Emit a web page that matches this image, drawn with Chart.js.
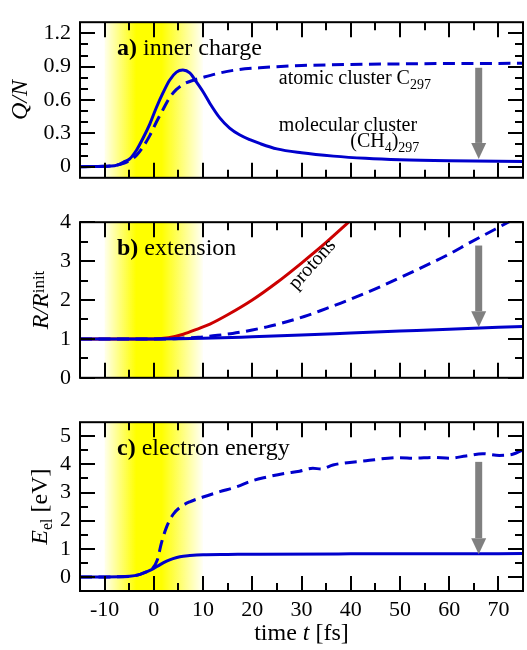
<!DOCTYPE html>
<html>
<head>
<meta charset="utf-8">
<script src="https://cdn.jsdelivr.net/npm/chart.js@4.4.1/dist/chart.umd.min.js"></script>
<style>
  body { margin: 0; background: #fff; }
  canvas { position: absolute; left: 0; }
</style>
</head>
<body>
<canvas id="chartA" width="527" height="200" style="top:0"></canvas>
<canvas id="chartB" width="527" height="200" style="top:200px"></canvas>
<canvas id="chartC" width="527" height="250" style="top:400px"></canvas>
<script>
// time axis [fs]
const xTicks = [-10, 0, 10, 20, 30, 40, 50, 60, 70];
const xMinorTicks = [-5, 5, 15, 25, 35, 45, 55, 65];
const pulseStart = -10;
const pulseEnd = 10;

// a) inner charge Q/N
const qTicks = [0, 0.3, 0.6, 0.9, 1.2];
const qMinorTicks = [0.1, 0.2, 0.4, 0.5, 0.7, 0.8, 1.0, 1.1];
const qMolTime = [-15, -10, -8, -7, -6.2, -4.9, -3.5, -2.2, -0.8, 0.5, 1.9, 3.2, 4.6, 5.9, 7.3, 8.6, 10, 11.4, 13.4, 15.4, 17.4, 19.5, 21.5, 25, 30, 36.5, 43, 50, 60, 75];
const qMol = [0, 0.003, 0.008, 0.02, 0.04, 0.07, 0.15, 0.256, 0.386, 0.53, 0.668, 0.778, 0.851, 0.869, 0.843, 0.765, 0.674, 0.569, 0.439, 0.347, 0.287, 0.243, 0.209, 0.16, 0.125, 0.095, 0.075, 0.062, 0.053, 0.047];
const qAtomTime = [-15, -10, -7, -4.9, -3.5, -2.2, -0.8, 0.5, 1.9, 3.2, 4.6, 5.9, 8, 10, 13.4, 17.4, 21.5, 25, 30, 40, 50, 60, 75];
const qAtom = [0, 0.003, 0.02, 0.055, 0.104, 0.178, 0.282, 0.40, 0.517, 0.621, 0.695, 0.739, 0.778, 0.804, 0.843, 0.875, 0.89, 0.90, 0.91, 0.92, 0.925, 0.928, 0.93];

// b) extension R/R_init
const rTicks = [0, 1, 2, 3, 4];
const rMinorTicks = [0.5, 1.5, 2.5, 3.5];
const rMolTime = [-15, 0, 5, 10, 20, 30, 40, 50, 60, 75];
const rMol = [1, 1, 1.005, 1.015, 1.055, 1.1, 1.15, 1.2, 1.25, 1.32];
const rAtomTime = [-15, 0, 3, 6, 9, 12, 16, 20, 23, 27, 31.4, 35, 39, 46, 53, 60, 64, 68, 72, 75];
const rAtom = [1, 1, 1, 1.02, 1.04, 1.08, 1.14, 1.23, 1.31, 1.44, 1.61, 1.78, 1.97, 2.34, 2.75, 3.18, 3.46, 3.73, 4.0, 4.2];
const rProtonTime = [-15, 0, 3, 6, 9, 11.4, 15, 20, 25, 30, 35, 40];
const rProton = [1, 1, 1.03, 1.12, 1.26, 1.38, 1.62, 2.0, 2.45, 2.95, 3.48, 4.05];

// c) electron energy [eV]
const eTicks = [0, 1, 2, 3, 4, 5];
const eMinorTicks = [0.5, 1.5, 2.5, 3.5, 4.5];
const eMolTime = [-15, -10, -4.9, -2.8, -1.5, -0.1, 1.2, 2.6, 3.9, 5.3, 7.3, 10, 15, 21.5, 40, 60, 75];
const eMol = [0, 0, 0.02, 0.09, 0.18, 0.29, 0.43, 0.56, 0.65, 0.72, 0.76, 0.79, 0.80, 0.81, 0.82, 0.825, 0.83];
const eAtomTime = [-15, -10, -4.9, -2.8, -1.5, -0.5, 0.7, 1.55, 2.6, 3.9, 5.3, 7.3, 10, 13.4, 16.8, 20, 23, 26.2, 29.6, 32.3, 34, 36.4, 43.1, 49.9, 53, 56.7, 60, 63.4, 66.8, 70.2, 72.9, 75];
const eAtom = [0, 0, 0.02, 0.09, 0.18, 0.25, 0.6, 1.21, 1.78, 2.22, 2.47, 2.67, 2.84, 3.03, 3.2, 3.42, 3.55, 3.67, 3.76, 3.86, 3.84, 3.98, 4.13, 4.24, 4.22, 4.25, 4.22, 4.3, 4.38, 4.32, 4.36, 4.52];

const SERIF = '"Liberation Serif", "DejaVu Serif", serif';
const BLUE = '#0000cc';
const RED = '#cc0000';

function f(size, style) {
    return (style ? style + ' ' : '') + size + 'px ' + SERIF;
}

function pts(times, values) {
    return times.map((t, i) => ({ x: t, y: values[i] }));
}

function richText(ctx, parts, x, y, angle, align) {
    ctx.save();
    ctx.translate(x, y);
    ctx.rotate(angle || 0);
    ctx.textBaseline = 'alphabetic';
    ctx.textAlign = 'left';
    ctx.fillStyle = '#000';
    let total = 0;
    parts.forEach(p => { ctx.font = p.font; total += ctx.measureText(p.text).width; });
    let cx = align === 'center' ? -total / 2 : 0;
    parts.forEach(p => {
        ctx.font = p.font;
        ctx.fillText(p.text, cx, p.dy || 0);
        cx += ctx.measureText(p.text).width;
    });
    ctx.restore();
}

const decor = {
    id: 'decor',
    beforeDatasetsDraw(chart) {
        const { ctx, chartArea: a, scales: { x } } = chart;
        const x0 = x.getPixelForValue(pulseStart);
        const x1 = x.getPixelForValue(pulseEnd);
        const g = ctx.createLinearGradient(x0, 0, x1, 0);
        g.addColorStop(0, 'rgba(255,255,0,0.07)');
        g.addColorStop(0.32, 'rgba(255,255,0,1)');
        g.addColorStop(0.58, 'rgba(255,255,0,1)');
        g.addColorStop(1, 'rgba(255,255,0,0.03)');
        ctx.save();
        ctx.fillStyle = g;
        ctx.fillRect(x0, a.top, x1 - x0, a.bottom - a.top);
        ctx.restore();
    },
    afterDatasetsDraw(chart, args, opts) {
        const { ctx, chartArea: a, scales: { x, y } } = chart;
        ctx.save();

        // grey arrow
        const ar = opts.arrow;
        const ax = x.getPixelForValue(ar.x);
        const ay0 = y.getPixelForValue(ar.from);
        const ay1 = y.getPixelForValue(ar.to);
        ctx.fillStyle = '#808080';
        ctx.fillRect(ax - 3.5, ay0, 7, ay1 - 16 - ay0);
        ctx.beginPath();
        ctx.moveTo(ax - 7.5, ay1 - 16);
        ctx.lineTo(ax + 7.5, ay1 - 16);
        ctx.lineTo(ax, ay1);
        ctx.closePath();
        ctx.fill();

        // inward ticks on all sides
        ctx.strokeStyle = '#000';
        ctx.lineWidth = 2;
        ctx.beginPath();
        const tx = (vals, len) => vals.forEach(v => {
            const px = Math.round(x.getPixelForValue(v));
            ctx.moveTo(px, a.bottom); ctx.lineTo(px, a.bottom - len);
            ctx.moveTo(px, a.top); ctx.lineTo(px, a.top + len);
        });
        const ty = (vals, len) => vals.forEach(v => {
            const py = Math.round(y.getPixelForValue(v));
            ctx.moveTo(a.left, py); ctx.lineTo(a.left + len, py);
            ctx.moveTo(a.right, py); ctx.lineTo(a.right - len, py);
        });
        tx(xTicks, 15);
        tx(xMinorTicks, 8);
        ty(opts.yTicks, 15);
        ty(opts.yMinor, 8);
        ctx.stroke();
        ctx.strokeRect(a.left, a.top, a.right - a.left, a.bottom - a.top);

        // panel label
        richText(ctx, opts.label, a.left + 37, a.top + 33);

        // texts in data coordinates
        (opts.texts || []).forEach(t => {
            richText(ctx, t.parts, x.getPixelForValue(t.x), y.getPixelForValue(t.y), t.angle, t.align);
        });

        // axis titles
        richText(ctx, opts.yTitle, opts.yTitleX, (a.top + a.bottom) / 2, -Math.PI / 2, 'center');
        if (opts.xTitle) {
            richText(ctx, opts.xTitle, (a.left + a.right) / 2, opts.xTitleY, 0, 'center');
        }
        ctx.restore();
    }
};

function makePanel(id, cfg) {
    const datasets = cfg.series.map(s => ({
        data: pts(s.t, s.v),
        borderColor: s.color,
        borderWidth: 3,
        borderDash: s.dashed ? [12, 6.5] : [],
        pointRadius: 0,
        fill: false,
        cubicInterpolationMode: 'monotone'
    }));

    return new Chart(document.getElementById(id), {
        type: 'line',
        data: { datasets: datasets },
        plugins: [decor],
        options: {
            responsive: false,
            animation: false,
            events: [],
            layout: { autoPadding: false, padding: cfg.padding },
            plugins: {
                legend: { display: false },
                tooltip: { enabled: false },
                decor: cfg.decor
            },
            scales: {
                x: {
                    type: 'linear',
                    min: -15,
                    max: 75,
                    grid: { display: false, drawTicks: false },
                    border: { display: false },
                    afterBuildTicks: s => { s.ticks = xTicks.map(v => ({ value: v })); },
                    afterFit: s => { s.height = cfg.xHeight; },
                    ticks: {
                        display: cfg.showX,
                        padding: 6,
                        color: '#000',
                        font: { family: SERIF, size: 22 },
                        maxRotation: 0,
                        autoSkip: false,
                        callback: v => String(v)
                    }
                },
                y: {
                    type: 'linear',
                    min: cfg.yMin,
                    max: cfg.yMax,
                    grid: { display: false, drawTicks: false },
                    border: { display: false },
                    afterBuildTicks: s => { s.ticks = cfg.decor.yTicks.map(v => ({ value: v })); },
                    afterFit: s => { s.width = 80; },
                    ticks: {
                        padding: 9,
                        color: '#000',
                        font: { family: SERIF, size: 22 },
                        autoSkip: false,
                        callback: v => String(v)
                    }
                }
            }
        }
    });
}

makePanel('chartA', {
    padding: { top: 10, bottom: 11, left: 0, right: 4 },
    xHeight: 0,
    showX: false,
    yMin: -0.1,
    yMax: 1.3,
    series: [
        { t: qMolTime, v: qMol, color: BLUE, dashed: false },
        { t: qAtomTime, v: qAtom, color: BLUE, dashed: true }
    ],
    decor: {
        yTicks: qTicks,
        yMinor: qMinorTicks,
        arrow: { x: 66, from: 0.89, to: 0.07 },
        label: [{ text: 'a)', font: f(24, 'bold') }, { text: ' inner charge', font: f(24) }],
        texts: [
            { x: 25.4, y: 0.74, parts: [{ text: 'atomic cluster C', font: f(20) }, { text: '297', font: f(14), dy: 5 }] },
            { x: 25.4, y: 0.32, parts: [{ text: 'molecular cluster', font: f(20) }] },
            { x: 39.9, y: 0.173, parts: [{ text: '(CH', font: f(20) }, { text: '4', font: f(14), dy: 5 }, { text: ')', font: f(20) }, { text: '297', font: f(14), dy: 5 }] }
        ],
        yTitle: [{ text: 'Q/N', font: f(24, 'italic') }],
        yTitleX: 27
    }
});

makePanel('chartB', {
    padding: { top: 11, bottom: 10, left: 0, right: 4 },
    xHeight: 0,
    showX: false,
    yMin: 0,
    yMax: 4,
    series: [
        { t: rMolTime, v: rMol, color: BLUE, dashed: false },
        { t: rAtomTime, v: rAtom, color: BLUE, dashed: true },
        { t: rProtonTime, v: rProton, color: RED, dashed: false }
    ],
    decor: {
        yTicks: rTicks,
        yMinor: rMinorTicks,
        arrow: { x: 66, from: 3.4, to: 1.3 },
        label: [{ text: 'b)', font: f(24, 'bold') }, { text: ' extension', font: f(24) }],
        texts: [
            { x: 33, y: 2.82, angle: -48 * Math.PI / 180, align: 'center', parts: [{ text: 'protons', font: f(20) }] }
        ],
        yTitle: [{ text: 'R/R', font: f(24, 'italic') }, { text: 'init', font: f(17), dy: -4 }],
        yTitleX: 48
    }
});

makePanel('chartC', {
    padding: { top: 13, bottom: 0, left: 0, right: 4 },
    xHeight: 59,
    showX: true,
    yMin: -0.5,
    yMax: 5.5,
    series: [
        { t: eMolTime, v: eMol, color: BLUE, dashed: false },
        { t: eAtomTime, v: eAtom, color: BLUE, dashed: true }
    ],
    decor: {
        yTicks: eTicks,
        yMinor: eMinorTicks,
        arrow: { x: 66, from: 4.09, to: 0.81 },
        label: [{ text: 'c)', font: f(24, 'bold') }, { text: ' electron energy', font: f(24) }],
        texts: [],
        yTitle: [{ text: 'E', font: f(24, 'italic') }, { text: 'el', font: f(16), dy: 5 }, { text: ' [eV]', font: f(24) }],
        yTitleX: 47,
        xTitle: [{ text: 'time ', font: f(24) }, { text: 't', font: f(24, 'italic') }, { text: ' [fs]', font: f(24) }],
        xTitleY: 240
    }
});
</script>
</body>
</html>
